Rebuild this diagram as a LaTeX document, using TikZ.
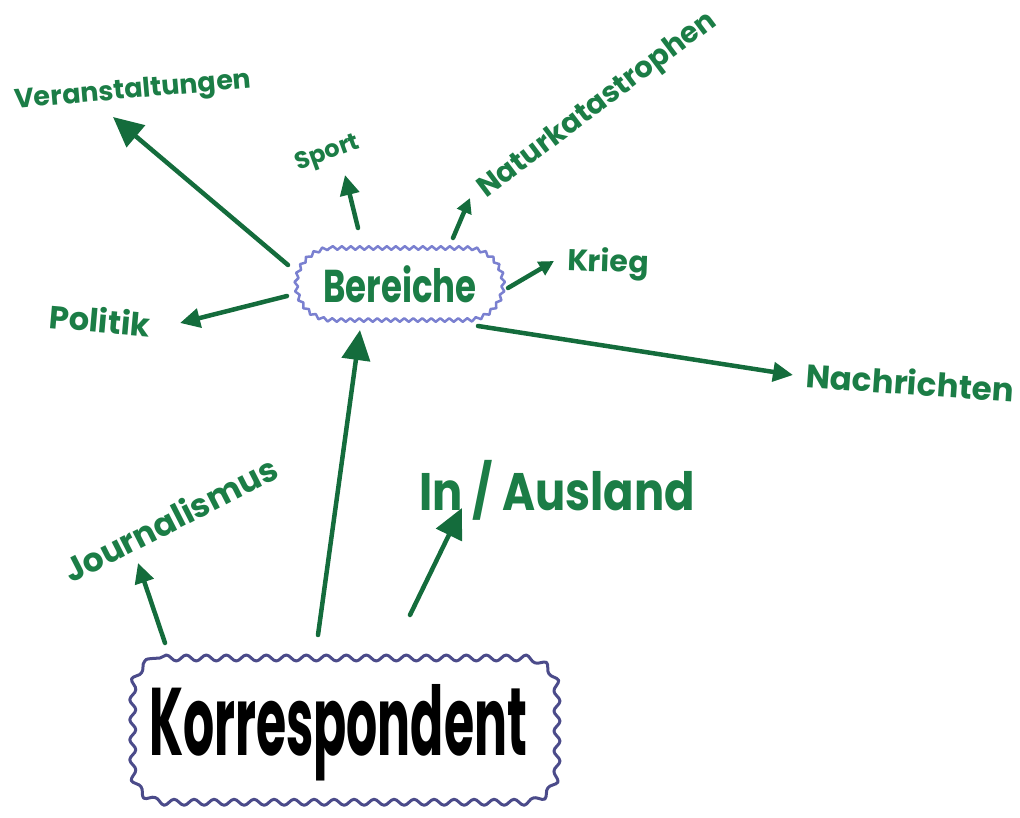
\documentclass[tikz,border=0pt]{standalone}
\usepackage{fontspec}
\setmainfont{Poppins}
\usetikzlibrary{arrows.meta,decorations.pathmorphing}
\definecolor{txtgreen}{HTML}{1B7D46}
\definecolor{arrgreen}{HTML}{146C3C}
\definecolor{cloudblue}{HTML}{7A80D0}
\definecolor{clouddark}{HTML}{4B4B8A}
\tikzset{
  lbl/.style={text=txtgreen, inner sep=0pt, font=\fontsize{#1}{#1}\selectfont\bfseries},
  conn/.style={draw=arrgreen, line width=4.5pt, line cap=round},
  tipA/.style={-{Triangle[length=30pt,width=28pt]}},
  tipB/.style={-{Triangle[length=20pt,width=19pt]}},
  tipC/.style={-{Triangle[length=15pt,width=15pt]}},
}
\begin{document}
\begin{tikzpicture}
\useasboundingbox (0pt,0pt) rectangle (1020pt,-818pt);
% cloud boxes (explicit pt coordinates, y negative downward)
\draw[clouddark, line width=3pt, line join=round,
  decorate, decoration={snake, segment length=20pt, amplitude=3pt}]
  (160pt,-658pt) -- (520pt,-658pt) arc[start angle=90,end angle=0,radius=32pt]
  -- (552pt,-770pt) arc[start angle=0,end angle=-90,radius=32pt]
  -- (160pt,-802pt) arc[start angle=270,end angle=180,radius=32pt]
  -- (128pt,-690pt) arc[start angle=180,end angle=90,radius=32pt] -- cycle;
\draw[cloudblue, line width=2.5pt, line join=round,
  decorate, decoration={snake, segment length=9pt, amplitude=1.8pt}]
  (330pt,-248pt) -- (465pt,-248pt) arc[start angle=90,end angle=-90,radius=36pt]
  -- (330pt,-320pt) arc[start angle=270,end angle=90,radius=36pt] -- cycle;
\begin{scope}[x=1pt,y=-1pt]
% main nodes
\node[inner sep=0pt, font=\fontsize{60}{60}\selectfont\bfseries, xscale=0.815, yscale=1.6] (korr) at (338,733) {Korrespondent};
\node[lbl=40, xscale=0.85, yscale=1.15] (ber) at (400,284) {Bereiche};
% labels
\node[lbl=27, rotate=5] (veran) at (133,92) {Veranstaltungen};
\node[lbl=24, rotate=20] (sport) at (328,154) {Sport};
\node[lbl=29, rotate=37] (natur) at (598,106) {Naturkatastrophen};
\node[lbl=30, rotate=-2] (krieg) at (608,264) {Krieg};
\node[lbl=32, rotate=-5] (politik) at (100,320) {Politik};
\node[lbl=32.5, rotate=-4] (nachr) at (910,382) {Nachrichten};
\node[lbl=33, rotate=27] (journ) at (170,519) {Journalismus};
\node[lbl=44, xscale=1.02, yscale=1.2] (inaus) at (557,490) {In / Ausland};
% connector ends
\coordinate (k1) at (318,635);
\coordinate (k2) at (165,643);
\coordinate (k3) at (410,615);
\coordinate (b1) at (360,330);
\coordinate (j1) at (138,563);
\coordinate (i1) at (462,508);
\coordinate (bv) at (288,265);
\coordinate (v1) at (113,117);
\coordinate (bs) at (358,228);
\coordinate (s1) at (345,175);
\coordinate (bn) at (453,238);
\coordinate (n1) at (470,198);
\coordinate (bk) at (508,288);
\coordinate (kr1) at (554,261);
\coordinate (bp) at (287,296);
\coordinate (p1) at (180,323);
\coordinate (bna) at (478,326);
\coordinate (na1) at (793,375);
% connectors
\draw[conn, tipA] (k1) -- (b1);
\draw[conn, tipB] (k2) -- (j1);
\draw[conn, tipA] (k3) -- (i1);
\draw[conn, tipA] (bv) -- (v1);
\draw[conn, tipB] (bs) -- (s1);
\draw[conn, tipC] (bn) -- (n1);
\draw[conn, tipC] (bk) -- (kr1);
\draw[conn, tipB] (bp) -- (p1);
\draw[conn, tipB] (bna) -- (na1);
\end{scope}
\end{tikzpicture}
\end{document}
